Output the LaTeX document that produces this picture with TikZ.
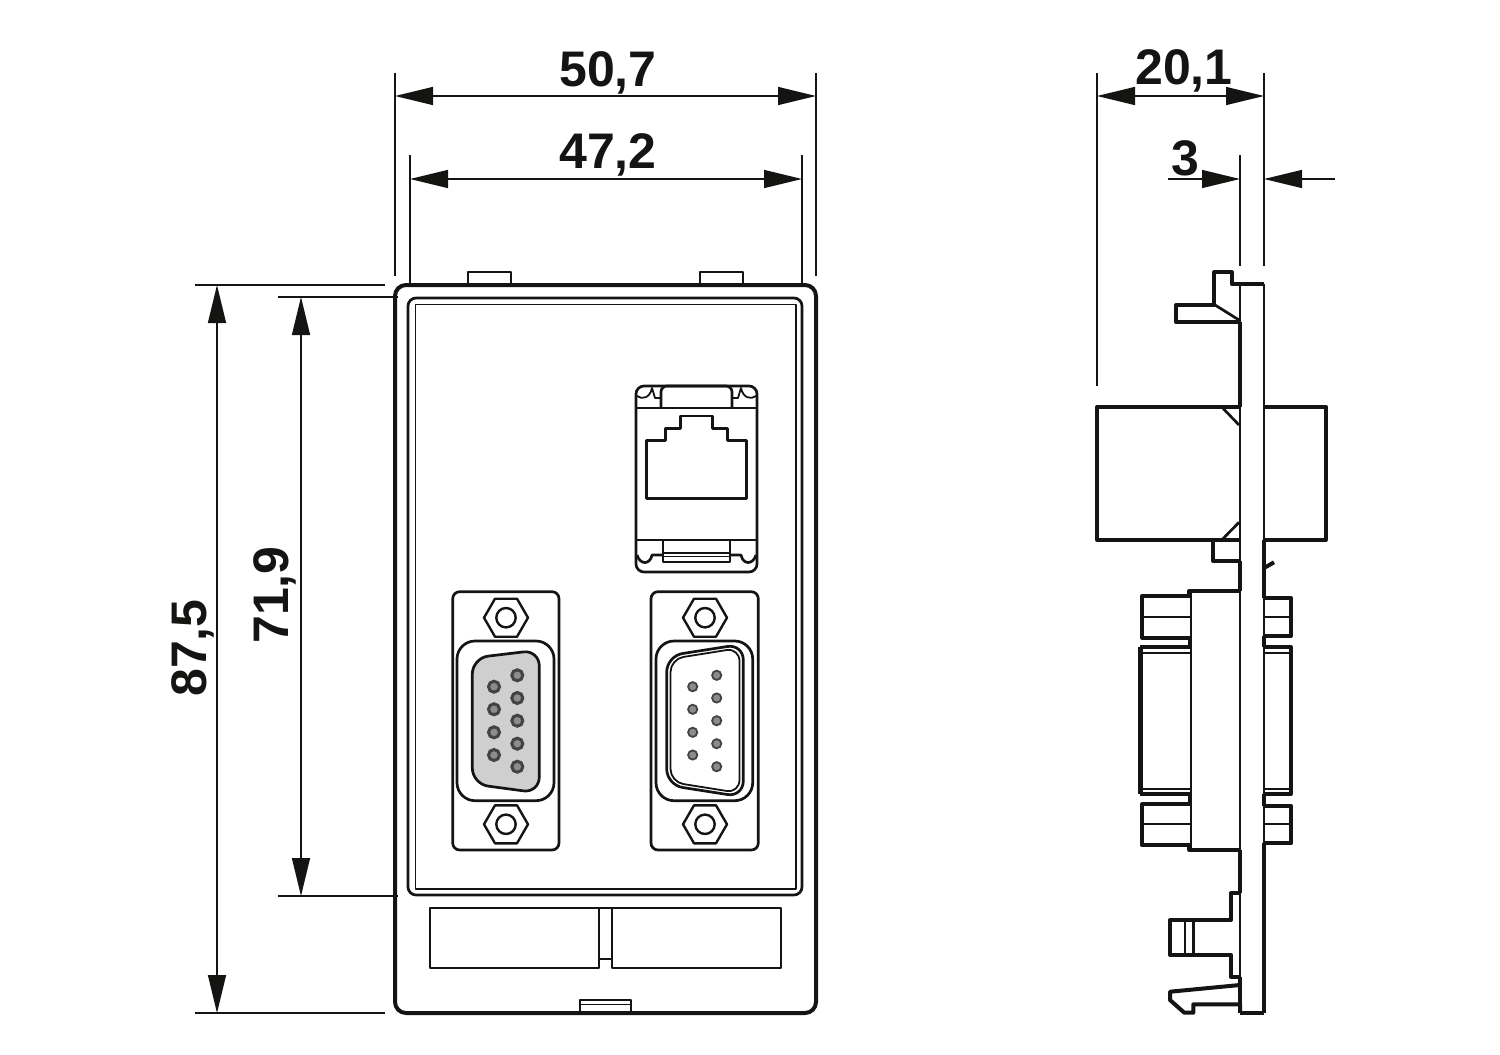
\documentclass[tikz,border=0pt]{standalone}
\usepackage{fontspec}
\setmainfont{Liberation Sans}
\usetikzlibrary{arrows.meta}
\definecolor{ink}{HTML}{141412}
\definecolor{pinfill}{HTML}{8C8C8C}
\definecolor{insertfill}{HTML}{CFCFCF}
\tikzset{
  heavy/.style={draw=ink,line width=4pt,line join=round},
  medium/.style={draw=ink,line width=2.7pt,line join=round},
  fine/.style={draw=ink,line width=1.8pt,line join=round},
  dimline/.style={draw=ink,line width=1.4pt},
  dimarrow/.style={dimline,{Triangle[length=38pt,width=18pt]}-{Triangle[length=38pt,width=18pt]}},
  dimlabel/.style={text=ink,font=\fontsize{50}{50}\selectfont\bfseries,inner sep=0pt}
}
\begin{document}
\begin{tikzpicture}[x=1pt,y=-1pt]
  \useasboundingbox (0,0) rectangle (1500,1055);
  % front view housing
  \draw[medium] (468,285) -- (468,272) -- (511,272) -- (511,285);
  \draw[medium] (700,285) -- (700,272) -- (743,272) -- (743,285);
  \draw[heavy,rounded corners=11pt] (395,285) rectangle (816,1013);
  \draw[medium,rounded corners=8pt] (408,298) rectangle (802,895);
  \draw[fine] (415.5,304.5) rectangle (796,889);
  % label fields and bottom tab
  \draw[medium] (430,908) rectangle (599,968);
  \draw[medium] (612,908) rectangle (781,968);
  \draw[medium] (599,908) -- (612,908) (599,959) -- (612,959);
  \draw[medium] (580,1013) -- (580,1000) -- (631,1000) -- (631,1013);
  \draw[fine] (580,1004.5) -- (631,1004.5);
  % network jack
  \draw[medium,rounded corners=8pt] (636,386) rectangle (757,572);
  \draw[medium] (636,408) -- (757,408) (636,540) -- (757,540);
  \draw[medium,rounded corners=6pt] (661,408) -- (661,386) -- (732,386) -- (732,408);
  \draw[medium] (646.7,498.3) -- (646.7,440.7) -- (665.7,440.7) -- (665.7,428.3) -- (680.7,428.3) -- (680.7,416)
    -- (712.7,416) -- (712.7,428.3) -- (727.7,428.3) -- (727.7,440.7) -- (746.7,440.7) -- (746.7,498.3) -- cycle;
  \draw[fine] (637,396) .. controls (642,400) and (650,398) .. (652,388) -- (655,398) -- (661,398);
  \draw[fine] (756,396) .. controls (751,400) and (743,398) .. (741,388) -- (738,398) -- (732,398);
  \draw[medium] (637,555) .. controls (640,565) and (650,565) .. (652,555) -- (663,555);
  \draw[medium] (756,555) .. controls (753,565) and (743,565) .. (741,555) -- (730,555);
  \draw[medium] (663,540) -- (663,562) -- (730,562) -- (730,540);
  \draw[medium] (663,553) -- (730,553);
  \draw[fine] (663,556.5) -- (730,556.5);
  % left connector
  \draw[medium,rounded corners=7pt] (452.7,591.7) rectangle (559,850);
  \draw[medium,rounded corners=18pt] (457,641) rectangle (554,800.7);
  \draw[medium,fill=insertfill,rounded corners=16pt] (472.3,658) -- (539.3,650) -- (539.3,793) -- (472.3,784) -- cycle;
  % right connector
  \draw[medium,rounded corners=7pt] (651,591.7) rectangle (758.3,850);
  \draw[medium,rounded corners=18pt] (656,641) rectangle (752.7,800.7);
  \draw[medium,rounded corners=16pt] (666.7,656) -- (743.3,644) -- (743.3,797) -- (666.7,785) -- cycle;
  \draw[fine,rounded corners=13pt] (670.5,659) -- (739.5,648) -- (739.5,793) -- (670.5,782) -- cycle;
  % hex nuts
  \foreach \hx/\hy in {506/617.7,506/824.3,705/617.7,705/824.3} {
    \draw[medium,line width=2.4pt,shift={(\hx,\hy)}] (-22,0) -- (-11,-19) -- (11,-19) -- (22,0) -- (11,19) -- (-11,19) -- cycle
      (0,0) circle[radius=9.7];
  }
  % pins
  \foreach \py in {686.7,709.3,732.3,755} {
    \draw[draw=ink!80,line width=3pt,fill=pinfill] (494,\py) circle[radius=5.5];
    \draw[draw=ink!80,line width=1.8pt,fill=pinfill] (692.7,\py) circle[radius=4.6];
  }
  \foreach \py in {675.3,698,720.7,743.7,766.7} {
    \draw[draw=ink!80,line width=3pt,fill=pinfill] (517.3,\py) circle[radius=5.5];
    \draw[draw=ink!80,line width=1.8pt,fill=pinfill] (716.7,\py) circle[radius=4.6];
  }
  % side view plate
  \draw[heavy] (1240,284) -- (1264,284);
  \draw[heavy] (1240,1012.7) -- (1264,1012.7);
  \draw[medium] (1240,284) -- (1240,322);
  \draw[heavy] (1240,322) -- (1240,406.7);
  \draw[medium] (1240,406.7) -- (1240,561);
  \draw[heavy] (1240,561) -- (1240,591);
  \draw[medium] (1240,591) -- (1240,850);
  \draw[heavy] (1240,850) -- (1240,893.3);
  \draw[medium] (1240,893.3) -- (1240,976.7);
  \draw[heavy] (1240,976.7) -- (1240,1012.7);
  \draw[medium] (1264,284) -- (1264,540);
  \draw[heavy] (1264,540) -- (1264,598);
  \draw[medium] (1264,598) -- (1264,636);
  \draw[heavy] (1264,636) -- (1264,647);
  \draw[medium] (1264,647) -- (1264,794);
  \draw[heavy] (1264,794) -- (1264,806);
  \draw[medium] (1264,806) -- (1264,843);
  \draw[heavy] (1264,843) -- (1264,1012.7);
  % side view top clip
  \draw[heavy] (1240,284) -- (1231.7,284) -- (1231.7,272.3) -- (1214.3,272.3) -- (1214.3,305) -- (1176,305)
    -- (1176,322.3) -- (1240,322.3);
  \draw[medium] (1215,305) -- (1239,320);
  % side view jack
  \draw[heavy] (1240,406.7) -- (1097.3,406.7) -- (1097.3,540) -- (1240,540);
  \draw[heavy] (1264,406.7) -- (1325.7,406.7) -- (1325.7,540) -- (1264,540);
  \draw[medium] (1222.7,408) -- (1239,425);
  \draw[medium] (1222.7,539) -- (1239,522.3);
  \draw[heavy] (1213.3,540) -- (1213.3,561) -- (1240,561);
  \draw[heavy] (1264,568) -- (1274,562.3);
  % side view connector
  \draw[heavy] (1189.3,596) -- (1189.3,591) -- (1240,591);
  \draw[heavy] (1189.3,845.3) -- (1189.3,849.5) -- (1240,849.5);
  \draw[medium] (1191,591) -- (1191,849.5);
  \draw[heavy] (1191,596) -- (1142.3,596) -- (1142.3,637.7) -- (1191,637.7);
  \draw[fine] (1142.3,617.3) -- (1191,617.3);
  \draw[heavy] (1191,804.3) -- (1142.3,804.3) -- (1142.3,845.3) -- (1191,845.3);
  \draw[fine] (1142.3,824) -- (1191,824);
  \draw[heavy] (1189.5,637.7) -- (1189.5,647);
  \draw[heavy] (1189.5,794) -- (1189.5,804.3);
  \draw[heavy,line width=5.4pt] (1140.5,647) -- (1140.5,794);
  \draw[heavy] (1140,647) -- (1191,647) (1140,794) -- (1191,794);
  \draw[fine] (1143,652.7) -- (1191,652.7) (1143,789.3) -- (1191,789.3);
  \draw[heavy] (1264,598.3) -- (1291,598.3) -- (1291,636) -- (1264,636);
  \draw[fine] (1264,617.3) -- (1291,617.3);
  \draw[heavy] (1264,805.7) -- (1291,805.7) -- (1291,843.3) -- (1264,843.3);
  \draw[fine] (1264,824) -- (1291,824);
  \draw[heavy] (1264,647) -- (1290.7,647) -- (1290.7,794) -- (1264,794);
  \draw[fine] (1264,652.7) -- (1289,652.7) (1264,789.3) -- (1289,789.3);
  % side view bottom clip
  \draw[heavy] (1240,893.3) -- (1231,893.3) -- (1231,920) -- (1170,920) -- (1170,955) -- (1231,955)
    -- (1231,976.7) -- (1240,976.7);
  \draw[medium] (1185,920) -- (1185,955) (1193.3,920) -- (1193.3,955);
  \draw[heavy] (1240,985) -- (1170,991.7) -- (1170,1000) -- (1184.3,1012.7) -- (1193.3,1012.7) -- (1193.3,1004.3)
    -- (1240,1004.3) -- (1240,1012.7);
  % dimension labels
  \node[dimlabel] (wouter) at (608,73) {50,7};
  \node[dimlabel] (winner) at (608,155) {47,2};
  \node[dimlabel] (depth) at (1184,71) {20,1};
  \node[dimlabel] (plate) at (1185,158) {3};
  \node[dimlabel,rotate=90] (houter) at (193,648) {87,5};
  \node[dimlabel,rotate=90] (hinner) at (275,595) {71,9};
  % dimension ends
  \coordinate (wouterl) at (395,96);
  \coordinate (wouterr) at (816,96);
  \coordinate (winnerl) at (410,179);
  \coordinate (winnerr) at (802,179);
  \coordinate (depthl) at (1097,96);
  \coordinate (depthr) at (1264,96);
  \coordinate (platel) at (1240,179);
  \coordinate (plater) at (1264,179);
  \coordinate (platelend) at (1168,179);
  \coordinate (platerend) at (1335,179);
  \coordinate (houtert) at (217,285);
  \coordinate (houterb) at (217,1013);
  \coordinate (hinnert) at (301,297);
  \coordinate (hinnerb) at (301,896);
  % dimension lines
  \draw[dimarrow] (wouterl) -- (wouterr);
  \draw[dimarrow] (winnerl) -- (winnerr);
  \draw[dimarrow] (depthl) -- (depthr);
  \draw[dimarrow] (houtert) -- (houterb);
  \draw[dimarrow] (hinnert) -- (hinnerb);
  \draw[dimline,-{Triangle[length=38pt,width=18pt]}] (platelend) -- (platel);
  \draw[dimline,-{Triangle[length=38pt,width=18pt]}] (platerend) -- (plater);
  % extension lines
  \draw[dimline] (395,73) -- (395,276);
  \draw[dimline] (816,73) -- (816,276);
  \draw[dimline] (410,155) -- (410,285);
  \draw[dimline] (802,155) -- (802,285);
  \draw[dimline] (1097,73) -- (1097,386);
  \draw[dimline] (1264,73) -- (1264,266);
  \draw[dimline] (1240,155) -- (1240,266);
  \draw[dimline] (195,285) -- (385,285);
  \draw[dimline] (195,1013) -- (385,1013);
  \draw[dimline] (278,297) -- (398,297);
  \draw[dimline] (278,896) -- (398,896);
\end{tikzpicture}
\end{document}
